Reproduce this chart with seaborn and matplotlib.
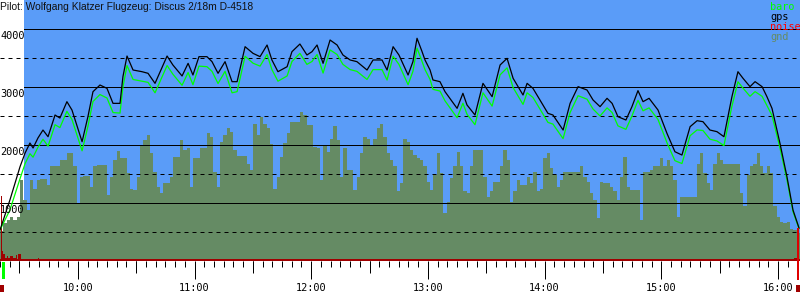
import numpy as np
import pandas as pd
import matplotlib
matplotlib.use("Agg")
import matplotlib.pyplot as plt
import matplotlib.transforms as mtransforms
from matplotlib.patches import Rectangle
import seaborn as sns

# ---------------- data (time in minutes since midnight, altitude in m) ----------------
title = "Pilot: Wolfgang Klatzer Flugzeug: Discus 2/18m D-4518"
legend_labels = ["baro", "gps", "noise", "gnd"]

gps_t = [560.0, 565.1, 570.3, 572.9, 575.4, 577.0, 579.5, 582.1, 584.7, 588.3, 590.8, 594.4,
         597.0, 602.2, 605.2, 607.8, 611.4, 615.0, 618.1, 621.7, 623.2, 625.3, 628.4, 633.0,
         636.1, 639.7, 645.9, 648.9, 653.6, 656.7, 659.2, 662.3, 666.4, 669.0, 672.1, 675.7,
         679.3, 681.9, 686.0, 690.1, 693.7, 697.3, 699.8, 702.9, 707.6, 710.1, 714.2, 717.8,
         720.4, 723.0, 726.1, 729.7, 733.3, 736.3, 740.0, 743.5, 748.7, 751.8, 756.4, 759.0,
         762.1, 765.1, 769.8, 772.3, 774.4, 777.0, 778.5, 781.1, 782.6, 786.2, 788.8, 795.0,
         798.0, 800.1, 804.2, 808.3, 813.0, 817.1, 820.7, 823.8, 828.9, 831.0, 834.0, 837.6,
         841.7, 844.3, 849.5, 853.1, 857.2, 861.8, 864.9, 868.5, 872.1, 874.7, 877.7, 881.8,
         884.9, 888.0, 890.6, 893.7, 898.3, 902.9, 907.0, 910.6, 914.8, 918.4, 921.4, 925.0,
         928.6, 932.2, 936.3, 939.4, 942.0, 945.6, 948.2, 951.8, 954.3, 956.9, 961.0, 964.6,
         967.7, 970.8]
gps_alt = [534, 1052, 1626, 1862, 2034, 1948, 2120, 2258, 2143, 2517, 2465, 2747,
           2603, 2057, 2488, 2919, 3034, 2977, 2718, 2718, 3178, 3534, 3293, 3264,
           3236, 3063, 3534, 3379, 3190, 3408, 3207, 3523, 3523, 3437, 3236, 3437,
           3092, 3092, 3695, 3580, 3523, 3724, 3466, 3264, 3350, 3609, 3741, 3552,
           3609, 3724, 3408, 3810, 3724, 3552, 3466, 3437, 3293, 3466, 3466, 3293,
           3695, 3552, 3207, 3437, 3840, 3609, 3466, 3293, 3121, 3092, 2919, 2632,
           2891, 2690, 2517, 3063, 2833, 3379, 3494, 3150, 2862, 3063, 2977, 2776,
           2546, 2517, 2258, 2718, 3006, 2948, 2776, 2661, 2805, 2718, 2488, 2431,
           2661, 2937, 2747, 2805, 2603, 2201, 1884, 1827, 2316, 2419, 2402, 2258,
           2230, 2143, 2833, 3264, 3150, 3006, 3092, 3006, 2833, 2632, 2029, 1453,
           879, 569]
baro_alt = [534, 880, 1420, 1680, 1850, 1790, 1960, 2100, 1980, 2350, 2300, 2580,
            2440, 1900, 2320, 2750, 2870, 2810, 2560, 2550, 3000, 3370, 3130, 3100,
            3080, 2900, 3370, 3220, 3030, 3250, 3040, 3360, 3350, 3270, 3060, 3270,
            2900, 2920, 3530, 3410, 3360, 3560, 3300, 3100, 3190, 3440, 3580, 3390,
            3440, 3560, 3240, 3640, 3560, 3390, 3300, 3270, 3130, 3300, 3300, 3120,
            3530, 3390, 3040, 3270, 3670, 3440, 3300, 3130, 2960, 2930, 2760, 2470,
            2720, 2530, 2350, 2900, 2670, 3210, 3330, 2990, 2700, 2900, 2820, 2620,
            2390, 2360, 2110, 2560, 2850, 2790, 2620, 2500, 2640, 2560, 2330, 2270,
            2500, 2770, 2590, 2640, 2440, 2040, 1730, 1680, 2160, 2260, 2250, 2100,
            2070, 1990, 2670, 3090, 2980, 2840, 2920, 2840, 2680, 2510, 1950, 1400,
            850, 560]

# ground elevation, one value per 1.714 min bin starting 09:20
gnd_start = 560.0
gnd_end = 971.3
gnd_alt = [520, 650, 710, 760, 710, 760, 1400, 1050, 880, 1400,
           1250, 1400, 1410, 1410, 1310, 1640, 1640, 1630, 1740, 1740,
           1860, 1860, 1630, 990, 1450, 1470, 1470, 1280, 1630, 1650,
           1650, 1650, 1140, 1450, 1740, 1890, 1770, 1770, 1510, 1250,
           1220, 1450, 2000, 2090, 2170, 1860, 1540, 1280, 1170, 1340,
           1340, 1450, 1800, 1800, 2090, 1910, 1940, 1280, 1770, 1770,
           1940, 1940, 2200, 2140, 1540, 1280, 2060, 2170, 2300, 2230,
           1910, 1810, 1810, 1810, 1680, 1570, 2370, 2170, 2490, 2370,
           2290, 2010, 1250, 1450, 1800, 2030, 2200, 2400, 2400, 2400,
           2570, 2520, 2340, 2340, 1970, 1940, 1400, 2000, 1880, 2110,
           2320, 2090, 1450, 1940, 1570, 1570, 1220, 1450, 1860, 2140,
           2110, 2000, 2110, 2290, 2370, 2140, 1860, 1740, 1630, 1200,
           1340, 2110, 2060, 1910, 1830, 1770, 1740, 1630, 1370, 1220,
           1480, 1860, 1510, 820, 1020, 1430, 1630, 1880, 1630, 1200,
           1170, 1630, 1910, 1910, 1910, 1450, 1110, 1200, 1360, 1370,
           1630, 1910, 1740, 1020, 1200, 1400, 1310, 1310, 1450, 1340,
           1540, 1200, 1250, 1770, 1860, 1600, 1480, 1280, 1400, 1540,
           1540, 1540, 1540, 1540, 1630, 1450, 1370, 1170, 1050, 740,
           1370, 1340, 1340, 1280, 1200, 1050, 1450, 1800, 1280, 1220,
           1220, 1220, 710, 1540, 1540, 1570, 1630, 1630, 1770, 1630,
           1740, 1630, 1400, 760, 1110, 1110, 1110, 1110, 1110, 1680,
           1860, 1510, 1340, 1220, 1680, 1860, 1740, 1680, 1680, 1680,
           1680, 1680, 1170, 940, 1480, 1630, 1670, 1860, 1630, 1510,
           1630, 1510, 940, 760, 680, 650, 680, 560, 530, 480]

noise_t = [560.0, 560.5, 561.0, 561.7, 562.6, 563.4, 564.3, 565.1, 566.9, 568.2, 568.9,
           569.4, 570.6, 571.5, 572.0, 574.9, 575.9, 579.3, 580.1, 968.2, 969.7, 971.3]
noise_v = [0, 1120, 172, 115, 57, 86, 57, 86, 57, 100, 29,
           115, 29, 15, 0, 15, 0, 57, 0, 50, 0, 0]

sky_start = 572.3          # start of sky shading
takeoff_t = 561.0
landing_t = 969.9
hour_ticks = [600, 660, 720, 780, 840, 900, 960]
hour_labels = ["10:00", "11:00", "12:00", "13:00", "14:00", "15:00", "16:00"]
solid_levels = [1000, 2000, 3000, 4000]
dashed_levels = [500, 1500, 2500, 3500]

# ---------------- style ----------------
SKY = "#5a9cf8"
GND = "#658b64"
BARO = "#00ff00"
NOISE = "#a00000"
RED = "#ff0000"
MONO = "DejaVu Sans Mono"
PX = 0.72  # points per pixel at dpi 100

fig = plt.figure(figsize=(8, 3), dpi=100)
ax = fig.add_axes([0, 39 / 300, 1, 261 / 300])
xmin, xmax = 560.0, 971.3
ax.set_xlim(xmin, xmax)
ax.set_ylim(0, 4500)
ax.set_facecolor("white")
for s in ax.spines.values():
    s.set_visible(False)

ax.axvspan(sky_start, xmax, color=SKY, lw=0, zorder=0)

# ground
n = len(gnd_alt)
edges = np.linspace(gnd_start, gnd_end, n + 1)
ax.fill_between(edges, np.append(gnd_alt, gnd_alt[-1]), 0, step="post",
                color=GND, lw=0, zorder=1)

# grid lines
xfrac = (sky_start - xmin) / (xmax - xmin)
for lv in solid_levels:
    ax.axhline(lv, xmin=(0 if lv == 1000 else xfrac), xmax=1, color="black",
               lw=1 * PX, zorder=2)
for lv in dashed_levels:
    ax.axhline(lv, color="black", lw=1 * PX, ls=(0, (4, 4)), zorder=2)

# noise
ax.fill_between(noise_t, noise_v, 0, step="post", color=NOISE, lw=0, zorder=3)
ax.axhline(0, color=NOISE, lw=4 * PX, zorder=3)

# altitude lines
df = pd.DataFrame({"t": gps_t, "gps": gps_alt, "baro": baro_alt})
sns.lineplot(data=df, x="t", y="baro", ax=ax, color=BARO, lw=1.25 * PX,
             estimator=None, sort=False, legend=False, zorder=4)
sns.lineplot(data=df, x="t", y="gps", ax=ax, color="black", lw=1.25 * PX,
             estimator=None, sort=False, legend=False, zorder=5)

# takeoff / landing markers
bt = mtransforms.blended_transform_factory(ax.transData, ax.transAxes)
pxw = (xmax - xmin) / 800.0
ax.add_patch(Rectangle((takeoff_t, -18 / 261), 3 * pxw, 17 / 261, transform=bt,
                       color=BARO, lw=0, clip_on=False, zorder=6))
ax.add_patch(Rectangle((xmin, -31 / 261), 4 * pxw, 7 / 261, transform=bt,
                       color=NOISE, lw=0, clip_on=False, zorder=6))
ax.add_patch(Rectangle((xmax - 4 * pxw, -31 / 261), 4 * pxw, 7 / 261, transform=bt,
                       color=NOISE, lw=0, clip_on=False, zorder=6))
y_land = gps_alt[-1] / 4500
ax.add_patch(Rectangle((landing_t, -19 / 261), 2 * pxw, y_land + 19 / 261, transform=bt,
                       color="#e00000", lw=0, clip_on=False, zorder=6))

# ticks
ax.set_xticks(hour_ticks)
ax.set_xticklabels(hour_labels, fontfamily=MONO, fontsize=7.4)
ax.set_xticks(np.arange(560, 972, 5), minor=True)
ax.tick_params(axis="x", which="major", length=18 * PX, width=1 * PX, color="black",
               pad=3.0, direction="out")
ax.tick_params(axis="x", which="minor", length=6 * PX, width=1 * PX, color="black",
               direction="out")
ax.set_yticks([])
ax.set_xlabel("")
ax.set_ylabel("")
sec = ax.secondary_xaxis("bottom")
sec.set_xticks([570, 630, 690, 750, 810, 870, 930])
sec.set_xticklabels([])
sec.tick_params(length=12 * PX, width=1 * PX, color="black")
for s in sec.spines.values():
    s.set_visible(False)

# y labels
off = mtransforms.ScaledTranslation(0, -2 / 100, fig.dpi_scale_trans)
yt = mtransforms.blended_transform_factory(ax.transAxes, ax.transData) + off
for lv in solid_levels:
    ax.text(0.0, lv, str(lv), transform=yt, ha="left", va="top",
            fontfamily=MONO, fontsize=7.4, color="black", zorder=7)

# title
fig.text(0.0, 1 - 2 / 300, title, ha="left", va="top",
         fontfamily="Liberation Sans", fontsize=7.4, color="#111111")

# legend
leg_colors = [BARO, "black", RED, GND]
for i, (lab, c) in enumerate(zip(legend_labels, leg_colors)):
    fig.text(770 / 800, 1 - (2 + 10 * i) / 300, lab, ha="left", va="top",
             fontfamily=MONO, fontsize=7.4, color=c)

fig.savefig("out.png", dpi=100)
